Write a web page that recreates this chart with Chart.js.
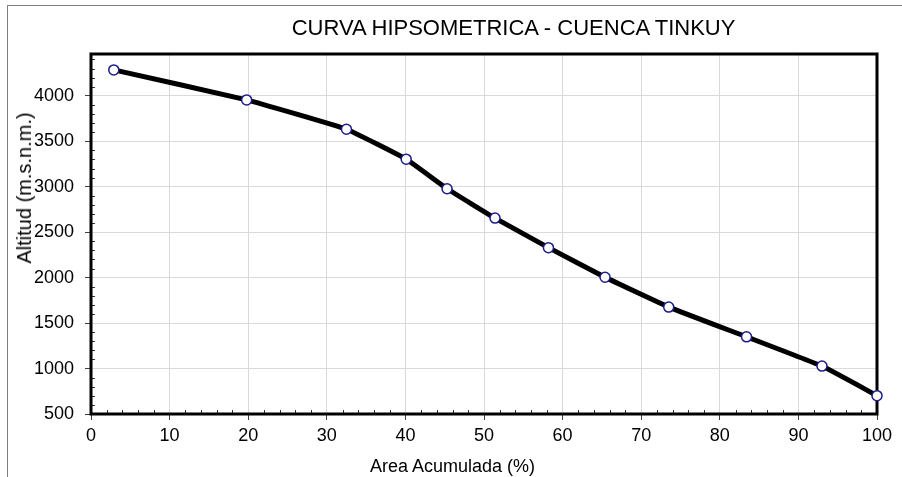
<!DOCTYPE html>
<html><head><meta charset="utf-8">
<script src="https://cdn.jsdelivr.net/npm/chart.js@4.4.0/dist/chart.umd.min.js"></script>
<style>
html,body{margin:0;padding:0;background:#fff;}
#wrap{position:relative;width:902px;height:477px;overflow:hidden;font-family:"Liberation Sans",Arial,sans-serif;background:#fff;}
#frame{position:absolute;left:7px;top:5px;width:900px;height:480px;border-top:1px solid #7f7f7f;border-left:1px solid #7f7f7f;box-sizing:border-box;}
canvas{position:absolute;left:0;top:0;}
.t{position:absolute;white-space:nowrap;color:#000;}
#title{font-size:22px;line-height:22px;left:513.5px;top:17px;transform:translateX(-50%);}
#xtitle{font-size:18px;line-height:18px;left:452.5px;top:457px;transform:translateX(-50%);}
#ytitle{font-size:20px;line-height:20px;left:24px;top:187.5px;transform:translate(-50%,-50%) rotate(-90deg);}
</style></head><body>
<div id="wrap">
<div id="frame"></div>
<canvas id="c" width="902" height="477"></canvas>
<div class="t" id="title">CURVA HIPSOMETRICA - CUENCA TINKUY</div>
<div class="t" id="xtitle">Area Acumulada (%)</div>
<div class="t" id="ytitle">Altitud (m.s.n.m.)</div>
</div>
<script>
const areaPct  = [2.9, 19.8, 32.5, 40.1, 45.3, 51.4, 58.2, 65.4, 73.5, 83.4, 93.0, 100];
const altitude = [4285, 3955, 3632, 3303, 2978, 2655, 2330, 2004, 1676, 1349, 1027, 702];
const xTicks = [0, 10, 20, 30, 40, 50, 60, 70, 80, 90, 100];
const yTicks = [500, 1000, 1500, 2000, 2500, 3000, 3500, 4000];

const FONT = '"Liberation Sans", Arial, sans-serif';
const points = areaPct.map((x, i) => ({x: x, y: altitude[i]}));

const framePlugin = {
  id: 'frameMinor',
  beforeDatasetsDraw(chart) {
    const ctx = chart.ctx, a = chart.chartArea;
    const xs = chart.scales.x, ys = chart.scales.y;
    ctx.save();
    ctx.strokeStyle = '#333';
    ctx.lineWidth = 1;
    ctx.beginPath();
    for (let v = yTicks[0]; v <= ys.max; v += 100) {
      if (v % 500 === 0) continue;
      const y = Math.round(ys.getPixelForValue(v)) + 0.5;
      ctx.moveTo(a.left, y); ctx.lineTo(a.left + 4, y);
    }
    for (let v = xTicks[0]; v <= xs.max; v += 2) {
      if (v % 10 === 0) continue;
      const x = Math.round(xs.getPixelForValue(v)) + 0.5;
      ctx.moveTo(x, a.bottom); ctx.lineTo(x, a.bottom - 4);
    }
    ctx.stroke();
    ctx.strokeStyle = '#000';
    ctx.lineWidth = 3;
    ctx.strokeRect(a.left, a.top, a.right - a.left, a.bottom - a.top);
    ctx.restore();
  }
};

new Chart(document.getElementById('c'), {
  type: 'line',
  data: {
    datasets: [{
      data: points,
      borderColor: '#000',
      borderWidth: 5,
      tension: 0.1,
      pointRadius: 5,
      pointBackgroundColor: '#fff',
      pointBorderColor: '#1c1c8a',
      pointBorderWidth: 1.5,
      clip: false
    }]
  },
  options: {
    responsive: false,
    animation: false,
    devicePixelRatio: 1,
    layout: {padding: {top: 54, right: 25, left: 0, bottom: 0}},
    plugins: {legend: {display: false}, title: {display: false}, tooltip: {enabled: false}},
    scales: {
      x: {
        type: 'linear', min: xTicks[0], max: xTicks[xTicks.length - 1],
        afterBuildTicks: s => { s.ticks = xTicks.map(v => ({value: v})); },
        afterFit: s => { s.height = 63; },
        ticks: {font: {family: FONT, size: 18}, color: '#000', padding: 5, maxRotation: 0, autoSkip: false,
                callback: v => String(v)},
        grid: {color: '#d9d9d9', tickColor: '#404040', tickLength: 6, lineWidth: 1},
        border: {display: false}
      },
      y: {
        type: 'linear', min: yTicks[0], max: 4460,
        afterBuildTicks: s => { s.ticks = yTicks.map(v => ({value: v})); },
        afterFit: s => { s.width = 91; },
        ticks: {font: {family: FONT, size: 18}, color: '#000', padding: 11, autoSkip: false,
                callback: v => String(v)},
        grid: {color: '#d9d9d9', tickColor: '#404040', tickLength: 6, lineWidth: 1},
        border: {display: false}
      }
    }
  },
  plugins: [framePlugin]
});
</script>
</body></html>
